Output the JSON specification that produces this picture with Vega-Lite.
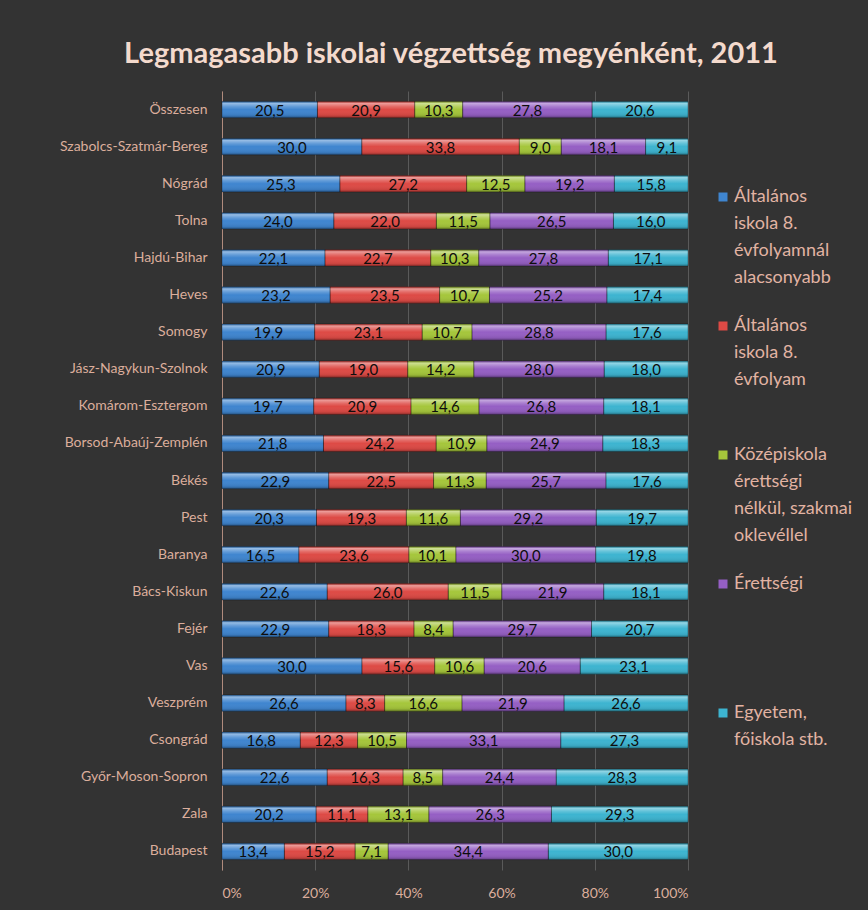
{
  "$schema": "https://vega.github.io/schema/vega-lite/v6.json",
  "width": 868,
  "height": 910,
  "autosize": {"type": "fit", "contains": "padding"},
  "padding": {"left": 0, "top": 40, "right": 6, "bottom": 10},
  "background": "#333333",
  "title": {
    "text": "Legmagasabb iskolai végzettség megyénként, 2011",
    "font": "Lato",
    "fontSize": 29,
    "fontWeight": "bold",
    "color": "#f4dacd",
    "anchor": "middle",
    "dx": -4,
    "offset": 22
  },
  "config": {
    "locale": {"number": {"decimal": ",", "thousands": " ", "grouping": [3], "currency": ["", " Ft"]}},
    "view": {"stroke": null},
    "font": "Lato",
    "style": {"guide-label": {"lineHeight": 27}}
  },
  "data": {
    "values": [
      {"county": "Összesen", "level": 1, "category": "Általános iskola 8. évfolyamnál alacsonyabb", "value": 20.5},
      {"county": "Összesen", "level": 2, "category": "Általános iskola 8. évfolyam", "value": 20.9},
      {"county": "Összesen", "level": 3, "category": "Középiskola érettségi nélkül, szakmai oklevéllel", "value": 10.3},
      {"county": "Összesen", "level": 4, "category": "Érettségi", "value": 27.8},
      {"county": "Összesen", "level": 5, "category": "Egyetem, főiskola stb.", "value": 20.6},
      {"county": "Szabolcs-Szatmár-Bereg", "level": 1, "category": "Általános iskola 8. évfolyamnál alacsonyabb", "value": 30.0},
      {"county": "Szabolcs-Szatmár-Bereg", "level": 2, "category": "Általános iskola 8. évfolyam", "value": 33.8},
      {"county": "Szabolcs-Szatmár-Bereg", "level": 3, "category": "Középiskola érettségi nélkül, szakmai oklevéllel", "value": 9.0},
      {"county": "Szabolcs-Szatmár-Bereg", "level": 4, "category": "Érettségi", "value": 18.1},
      {"county": "Szabolcs-Szatmár-Bereg", "level": 5, "category": "Egyetem, főiskola stb.", "value": 9.1},
      {"county": "Nógrád", "level": 1, "category": "Általános iskola 8. évfolyamnál alacsonyabb", "value": 25.3},
      {"county": "Nógrád", "level": 2, "category": "Általános iskola 8. évfolyam", "value": 27.2},
      {"county": "Nógrád", "level": 3, "category": "Középiskola érettségi nélkül, szakmai oklevéllel", "value": 12.5},
      {"county": "Nógrád", "level": 4, "category": "Érettségi", "value": 19.2},
      {"county": "Nógrád", "level": 5, "category": "Egyetem, főiskola stb.", "value": 15.8},
      {"county": "Tolna", "level": 1, "category": "Általános iskola 8. évfolyamnál alacsonyabb", "value": 24.0},
      {"county": "Tolna", "level": 2, "category": "Általános iskola 8. évfolyam", "value": 22.0},
      {"county": "Tolna", "level": 3, "category": "Középiskola érettségi nélkül, szakmai oklevéllel", "value": 11.5},
      {"county": "Tolna", "level": 4, "category": "Érettségi", "value": 26.5},
      {"county": "Tolna", "level": 5, "category": "Egyetem, főiskola stb.", "value": 16.0},
      {"county": "Hajdú-Bihar", "level": 1, "category": "Általános iskola 8. évfolyamnál alacsonyabb", "value": 22.1},
      {"county": "Hajdú-Bihar", "level": 2, "category": "Általános iskola 8. évfolyam", "value": 22.7},
      {"county": "Hajdú-Bihar", "level": 3, "category": "Középiskola érettségi nélkül, szakmai oklevéllel", "value": 10.3},
      {"county": "Hajdú-Bihar", "level": 4, "category": "Érettségi", "value": 27.8},
      {"county": "Hajdú-Bihar", "level": 5, "category": "Egyetem, főiskola stb.", "value": 17.1},
      {"county": "Heves", "level": 1, "category": "Általános iskola 8. évfolyamnál alacsonyabb", "value": 23.2},
      {"county": "Heves", "level": 2, "category": "Általános iskola 8. évfolyam", "value": 23.5},
      {"county": "Heves", "level": 3, "category": "Középiskola érettségi nélkül, szakmai oklevéllel", "value": 10.7},
      {"county": "Heves", "level": 4, "category": "Érettségi", "value": 25.2},
      {"county": "Heves", "level": 5, "category": "Egyetem, főiskola stb.", "value": 17.4},
      {"county": "Somogy", "level": 1, "category": "Általános iskola 8. évfolyamnál alacsonyabb", "value": 19.9},
      {"county": "Somogy", "level": 2, "category": "Általános iskola 8. évfolyam", "value": 23.1},
      {"county": "Somogy", "level": 3, "category": "Középiskola érettségi nélkül, szakmai oklevéllel", "value": 10.7},
      {"county": "Somogy", "level": 4, "category": "Érettségi", "value": 28.8},
      {"county": "Somogy", "level": 5, "category": "Egyetem, főiskola stb.", "value": 17.6},
      {"county": "Jász-Nagykun-Szolnok", "level": 1, "category": "Általános iskola 8. évfolyamnál alacsonyabb", "value": 20.9},
      {"county": "Jász-Nagykun-Szolnok", "level": 2, "category": "Általános iskola 8. évfolyam", "value": 19.0},
      {"county": "Jász-Nagykun-Szolnok", "level": 3, "category": "Középiskola érettségi nélkül, szakmai oklevéllel", "value": 14.2},
      {"county": "Jász-Nagykun-Szolnok", "level": 4, "category": "Érettségi", "value": 28.0},
      {"county": "Jász-Nagykun-Szolnok", "level": 5, "category": "Egyetem, főiskola stb.", "value": 18.0},
      {"county": "Komárom-Esztergom", "level": 1, "category": "Általános iskola 8. évfolyamnál alacsonyabb", "value": 19.7},
      {"county": "Komárom-Esztergom", "level": 2, "category": "Általános iskola 8. évfolyam", "value": 20.9},
      {"county": "Komárom-Esztergom", "level": 3, "category": "Középiskola érettségi nélkül, szakmai oklevéllel", "value": 14.6},
      {"county": "Komárom-Esztergom", "level": 4, "category": "Érettségi", "value": 26.8},
      {"county": "Komárom-Esztergom", "level": 5, "category": "Egyetem, főiskola stb.", "value": 18.1},
      {"county": "Borsod-Abaúj-Zemplén", "level": 1, "category": "Általános iskola 8. évfolyamnál alacsonyabb", "value": 21.8},
      {"county": "Borsod-Abaúj-Zemplén", "level": 2, "category": "Általános iskola 8. évfolyam", "value": 24.2},
      {"county": "Borsod-Abaúj-Zemplén", "level": 3, "category": "Középiskola érettségi nélkül, szakmai oklevéllel", "value": 10.9},
      {"county": "Borsod-Abaúj-Zemplén", "level": 4, "category": "Érettségi", "value": 24.9},
      {"county": "Borsod-Abaúj-Zemplén", "level": 5, "category": "Egyetem, főiskola stb.", "value": 18.3},
      {"county": "Békés", "level": 1, "category": "Általános iskola 8. évfolyamnál alacsonyabb", "value": 22.9},
      {"county": "Békés", "level": 2, "category": "Általános iskola 8. évfolyam", "value": 22.5},
      {"county": "Békés", "level": 3, "category": "Középiskola érettségi nélkül, szakmai oklevéllel", "value": 11.3},
      {"county": "Békés", "level": 4, "category": "Érettségi", "value": 25.7},
      {"county": "Békés", "level": 5, "category": "Egyetem, főiskola stb.", "value": 17.6},
      {"county": "Pest", "level": 1, "category": "Általános iskola 8. évfolyamnál alacsonyabb", "value": 20.3},
      {"county": "Pest", "level": 2, "category": "Általános iskola 8. évfolyam", "value": 19.3},
      {"county": "Pest", "level": 3, "category": "Középiskola érettségi nélkül, szakmai oklevéllel", "value": 11.6},
      {"county": "Pest", "level": 4, "category": "Érettségi", "value": 29.2},
      {"county": "Pest", "level": 5, "category": "Egyetem, főiskola stb.", "value": 19.7},
      {"county": "Baranya", "level": 1, "category": "Általános iskola 8. évfolyamnál alacsonyabb", "value": 16.5},
      {"county": "Baranya", "level": 2, "category": "Általános iskola 8. évfolyam", "value": 23.6},
      {"county": "Baranya", "level": 3, "category": "Középiskola érettségi nélkül, szakmai oklevéllel", "value": 10.1},
      {"county": "Baranya", "level": 4, "category": "Érettségi", "value": 30.0},
      {"county": "Baranya", "level": 5, "category": "Egyetem, főiskola stb.", "value": 19.8},
      {"county": "Bács-Kiskun", "level": 1, "category": "Általános iskola 8. évfolyamnál alacsonyabb", "value": 22.6},
      {"county": "Bács-Kiskun", "level": 2, "category": "Általános iskola 8. évfolyam", "value": 26.0},
      {"county": "Bács-Kiskun", "level": 3, "category": "Középiskola érettségi nélkül, szakmai oklevéllel", "value": 11.5},
      {"county": "Bács-Kiskun", "level": 4, "category": "Érettségi", "value": 21.9},
      {"county": "Bács-Kiskun", "level": 5, "category": "Egyetem, főiskola stb.", "value": 18.1},
      {"county": "Fejér", "level": 1, "category": "Általános iskola 8. évfolyamnál alacsonyabb", "value": 22.9},
      {"county": "Fejér", "level": 2, "category": "Általános iskola 8. évfolyam", "value": 18.3},
      {"county": "Fejér", "level": 3, "category": "Középiskola érettségi nélkül, szakmai oklevéllel", "value": 8.4},
      {"county": "Fejér", "level": 4, "category": "Érettségi", "value": 29.7},
      {"county": "Fejér", "level": 5, "category": "Egyetem, főiskola stb.", "value": 20.7},
      {"county": "Vas", "level": 1, "category": "Általános iskola 8. évfolyamnál alacsonyabb", "value": 30.0},
      {"county": "Vas", "level": 2, "category": "Általános iskola 8. évfolyam", "value": 15.6},
      {"county": "Vas", "level": 3, "category": "Középiskola érettségi nélkül, szakmai oklevéllel", "value": 10.6},
      {"county": "Vas", "level": 4, "category": "Érettségi", "value": 20.6},
      {"county": "Vas", "level": 5, "category": "Egyetem, főiskola stb.", "value": 23.1},
      {"county": "Veszprém", "level": 1, "category": "Általános iskola 8. évfolyamnál alacsonyabb", "value": 26.6},
      {"county": "Veszprém", "level": 2, "category": "Általános iskola 8. évfolyam", "value": 8.3},
      {"county": "Veszprém", "level": 3, "category": "Középiskola érettségi nélkül, szakmai oklevéllel", "value": 16.6},
      {"county": "Veszprém", "level": 4, "category": "Érettségi", "value": 21.9},
      {"county": "Veszprém", "level": 5, "category": "Egyetem, főiskola stb.", "value": 26.6},
      {"county": "Csongrád", "level": 1, "category": "Általános iskola 8. évfolyamnál alacsonyabb", "value": 16.8},
      {"county": "Csongrád", "level": 2, "category": "Általános iskola 8. évfolyam", "value": 12.3},
      {"county": "Csongrád", "level": 3, "category": "Középiskola érettségi nélkül, szakmai oklevéllel", "value": 10.5},
      {"county": "Csongrád", "level": 4, "category": "Érettségi", "value": 33.1},
      {"county": "Csongrád", "level": 5, "category": "Egyetem, főiskola stb.", "value": 27.3},
      {"county": "Győr-Moson-Sopron", "level": 1, "category": "Általános iskola 8. évfolyamnál alacsonyabb", "value": 22.6},
      {"county": "Győr-Moson-Sopron", "level": 2, "category": "Általános iskola 8. évfolyam", "value": 16.3},
      {"county": "Győr-Moson-Sopron", "level": 3, "category": "Középiskola érettségi nélkül, szakmai oklevéllel", "value": 8.5},
      {"county": "Győr-Moson-Sopron", "level": 4, "category": "Érettségi", "value": 24.4},
      {"county": "Győr-Moson-Sopron", "level": 5, "category": "Egyetem, főiskola stb.", "value": 28.3},
      {"county": "Zala", "level": 1, "category": "Általános iskola 8. évfolyamnál alacsonyabb", "value": 20.2},
      {"county": "Zala", "level": 2, "category": "Általános iskola 8. évfolyam", "value": 11.1},
      {"county": "Zala", "level": 3, "category": "Középiskola érettségi nélkül, szakmai oklevéllel", "value": 13.1},
      {"county": "Zala", "level": 4, "category": "Érettségi", "value": 26.3},
      {"county": "Zala", "level": 5, "category": "Egyetem, főiskola stb.", "value": 29.3},
      {"county": "Budapest", "level": 1, "category": "Általános iskola 8. évfolyamnál alacsonyabb", "value": 13.4},
      {"county": "Budapest", "level": 2, "category": "Általános iskola 8. évfolyam", "value": 15.2},
      {"county": "Budapest", "level": 3, "category": "Középiskola érettségi nélkül, szakmai oklevéllel", "value": 7.1},
      {"county": "Budapest", "level": 4, "category": "Érettségi", "value": 34.4},
      {"county": "Budapest", "level": 5, "category": "Egyetem, főiskola stb.", "value": 30.0}
    ]
  },
  "encoding": {
    "y": {
      "field": "county",
      "type": "nominal",
      "sort": ["Összesen", "Szabolcs-Szatmár-Bereg", "Nógrád", "Tolna", "Hajdú-Bihar", "Heves", "Somogy", "Jász-Nagykun-Szolnok", "Komárom-Esztergom", "Borsod-Abaúj-Zemplén", "Békés", "Pest", "Baranya", "Bács-Kiskun", "Fejér", "Vas", "Veszprém", "Csongrád", "Győr-Moson-Sopron", "Zala", "Budapest"],
      "scale": {"paddingInner": 0.56, "paddingOuter": 0.28},
      "axis": {
        "title": null,
        "ticks": false,
        "domain": true,
        "domainColor": "#b08b7d",
        "domainWidth": 1,
        "grid": false,
        "labelFont": "Lato",
        "labelFontSize": 14,
        "labelColor": "#dcae9c",
        "labelPadding": 15,
        "labelLimit": 300,
        "minExtent": 222,
        "maxExtent": 222
      }
    },
    "x": {
      "field": "value",
      "type": "quantitative",
      "stack": "normalize",
      "axis": {
        "title": null,
        "format": ".0%",
        "values": [0, 0.2, 0.4, 0.6, 0.8, 1],
        "grid": true,
        "gridColor": "#5a5a5a",
        "gridWidth": 1,
        "domain": false,
        "ticks": false,
        "labelFont": "Lato",
        "labelFontSize": 14,
        "labelColor": "#dcae9c",
        "labelPadding": 16
      }
    },
    "order": {"field": "level", "type": "quantitative"}
  },
  "layer": [
    {
      "mark": {"type": "bar"},
      "encoding": {
        "color": {
          "field": "category",
          "type": "nominal",
          "scale": {
            "domain": ["Általános iskola 8. évfolyamnál alacsonyabb", "Általános iskola 8. évfolyam", "Középiskola érettségi nélkül, szakmai oklevéllel", "Érettségi", "Egyetem, főiskola stb."],
            "range": ["#3f85cf", "#dd4a45", "#a5c63b", "#955fc4", "#3db4d0"]
          },
          "legend": {
            "orient": "right",
            "title": " ",
            "titleFontSize": 1,
            "titlePadding": 87,
            "symbolType": "square",
            "symbolSize": 81,
            "symbolStrokeWidth": 0,
            "labelFont": "Lato",
            "labelFontSize": 18,
            "labelColor": "#e2b3a3",
            "labelLimit": 300,
            "labelOffset": 2,
            "labelBaseline": "middle",
            "rowPadding": 3,
            "offset": 17,
            "padding": 9,
            "labelExpr": "datum.label == 'Általános iskola 8. évfolyamnál alacsonyabb' ? ['Általános', 'iskola 8.', 'évfolyamnál', 'alacsonyabb', ''] : datum.label == 'Általános iskola 8. évfolyam' ? ['Általános', 'iskola 8.', 'évfolyam', '', ''] : datum.label == 'Középiskola érettségi nélkül, szakmai oklevéllel' ? ['Középiskola', 'érettségi', 'nélkül, szakmai', 'oklevéllel', ''] : datum.label == 'Érettségi' ? ['Érettségi', '', '', '', ''] : ['Egyetem,', 'főiskola stb.', '', '', '']"
          }
        }
      }
    },
    {
      "mark": {
        "type": "bar",
        "fill": {
          "gradient": "linear",
          "x1": 0, "y1": 0, "x2": 0, "y2": 1,
          "stops": [
            {"offset": 0, "color": "rgba(0,0,0,0.2)"},
            {"offset": 0.12, "color": "rgba(255,255,255,0.45)"},
            {"offset": 0.32, "color": "rgba(255,255,255,0.18)"},
            {"offset": 0.5, "color": "rgba(255,255,255,0)"},
            {"offset": 0.85, "color": "rgba(0,0,0,0.08)"},
            {"offset": 1, "color": "rgba(0,0,0,0.35)"}
          ]
        },
        "stroke": "rgba(0,0,0,0.35)",
        "strokeWidth": 0.8
      },
      "encoding": {"detail": {"field": "category", "type": "nominal"}}
    },
    {
      "mark": {"type": "text", "font": "Lato", "fontSize": 15, "color": "#0d0d0d", "dy": 1},
      "encoding": {
        "x": {"field": "value", "type": "quantitative", "stack": "normalize", "bandPosition": 0.5},
        "text": {"field": "value", "type": "quantitative", "format": ".1f"},
        "detail": {"field": "category", "type": "nominal"}
      }
    }
  ]
}
